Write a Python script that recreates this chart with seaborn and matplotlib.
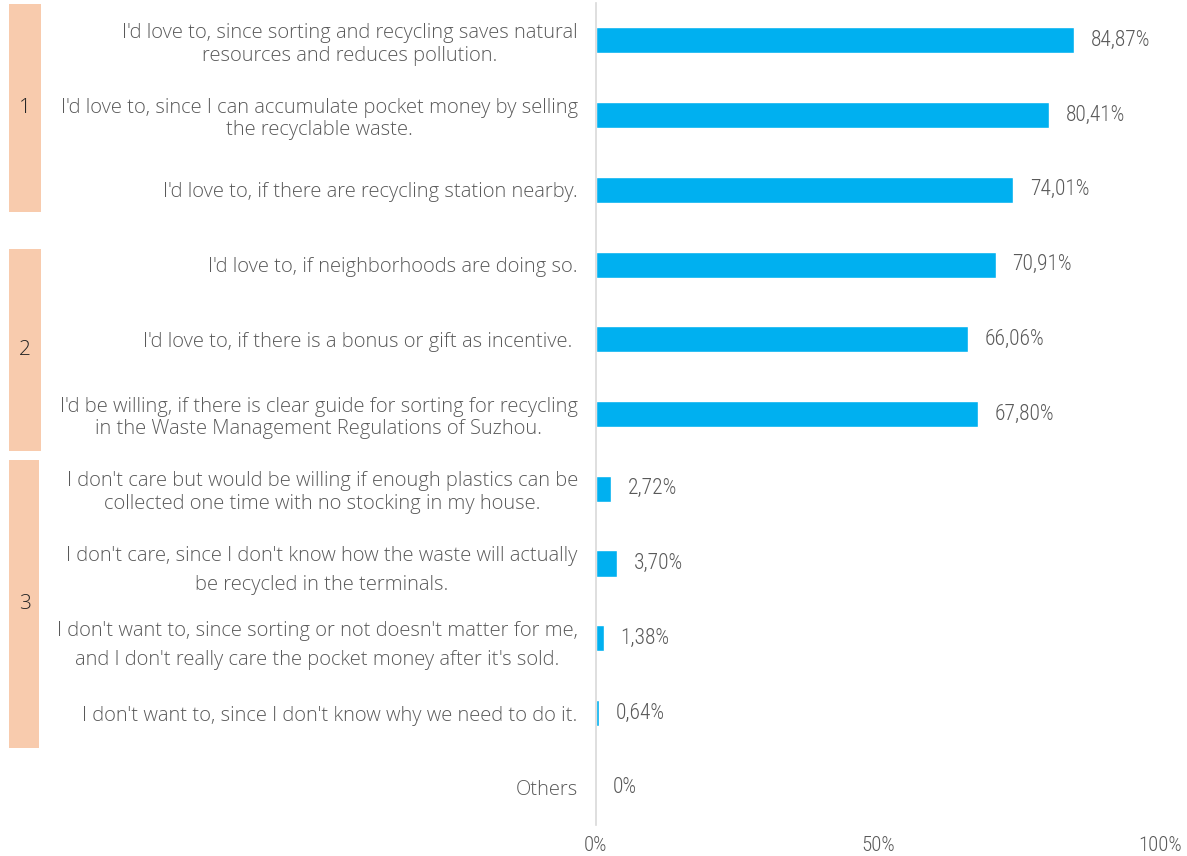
import matplotlib
matplotlib.use("Agg")
import matplotlib.pyplot as plt
from matplotlib.patches import Rectangle
import matplotlib.transforms as mtransforms
import seaborn as sns
import pandas as pd

# Survey answers (top to bottom) and share of respondents (%)
answers = [
    "I'd love to, since sorting and recycling saves natural\nresources and reduces pollution.",
    "I'd love to, since I can accumulate pocket money by selling\nthe recyclable waste.",
    "I'd love to, if there are recycling station nearby.",
    "I'd love to, if neighborhoods are doing so.",
    "I'd love to, if there is a bonus or gift as incentive. ",
    "I'd be willing, if there is clear guide for sorting for recycling\nin the Waste Management Regulations of Suzhou.",
    "I don't care but would be willing if enough plastics can be\ncollected one time with no stocking in my house.",
    "I don't care, since I don't know how the waste will actually\nbe recycled in the terminals.",
    "I don't want to, since sorting or not doesn't matter for me,\nand I don't really care the pocket money after it's sold.",
    "I don't want to, since I don't know why we need to do it.",
    "Others",
]
shares = [84.87, 80.41, 74.01, 70.91, 66.06, 67.80, 2.72, 3.70, 1.38, 0.64, 0.0]
value_labels = ["84,87%", "80,41%", "74,01%", "70,91%", "66,06%", "67,80%",
                "2,72%", "3,70%", "1,38%", "0,64%", "0%"]
x_ticks = [0, 50, 100]
x_tick_labels = ["0%", "50%", "100%"]
group_names = ["1", "2", "3"]

df = pd.DataFrame({"answer": answers, "share": shares})

sns.set_theme(style="white")
plt.rcParams["font.family"] = ["Open Sans", "DejaVu Sans"]

TEXT = "#595959"
BAR = "#00B0F0"
BAND = "#F8CBAD"
LABEL_FONT = ["Open Sans", "DejaVu Sans"]
NUM_FONT = ["Roboto Condensed", "DejaVu Sans"]

fig = plt.figure(figsize=(11.87, 8.56), dpi=100)
ax = fig.add_axes([0.502, 0.036, 0.475, 0.9605])

sns.barplot(data=df, x="share", y="answer", orient="h", color=BAR,
            width=0.35, saturation=1, ax=ax)

ax.set_xlim(0, 100)
ax.set_ylim(10.5, -0.5)
ax.set_xlabel("")
ax.set_ylabel("")
ax.set_xticks(x_ticks)
ax.set_xticklabels(x_tick_labels, color=TEXT, fontsize=15,
                   fontweight=300, family=NUM_FONT)
ax.tick_params(axis="both", length=0)
ax.tick_params(axis="x", pad=8)
ax.tick_params(axis="y", pad=13)
# the two lower explanatory answers are set with looser line spacing
loose_rows = {7, 8}
for i, lab in enumerate(ax.get_yticklabels()):
    lab.set_multialignment("center")
    lab.set_color(TEXT)
    lab.set_family(LABEL_FONT)
    lab.set_fontsize(14.5)
    lab.set_fontweight(300)
    lab.set_linespacing(1.6 if i in loose_rows else 1.18)

for side in ["top", "right", "bottom"]:
    ax.spines[side].set_visible(False)
ax.spines["left"].set_color("#D9D9D9")
ax.spines["left"].set_linewidth(1.2)

for i, (v, txt) in enumerate(zip(shares, value_labels)):
    ax.annotate(txt, xy=(v, i), xytext=(12, 0), textcoords="offset points",
                va="center", ha="left", fontsize=15.5, color=TEXT,
                fontweight=300, family=NUM_FONT)

# Group bands along the left edge: (top row, bottom row, width)
bands = [(-0.49, 2.30, 0.0270), (2.79, 5.50, 0.0270), (5.62, 9.47, 0.0253)]
trans = mtransforms.blended_transform_factory(fig.transFigure, ax.transData)
for name, (top, bottom, w) in zip(group_names, bands):
    fig.patches.append(Rectangle((0.0076, top), w, bottom - top,
                                 transform=trans, facecolor=BAND,
                                 edgecolor="none", zorder=-1))
    fig.text(0.021, (top + bottom) / 2, name, transform=trans,
             ha="center", va="center", fontsize=15, color="#262626",
             fontweight=300, family=LABEL_FONT)

fig.savefig("out.png", dpi=100)
